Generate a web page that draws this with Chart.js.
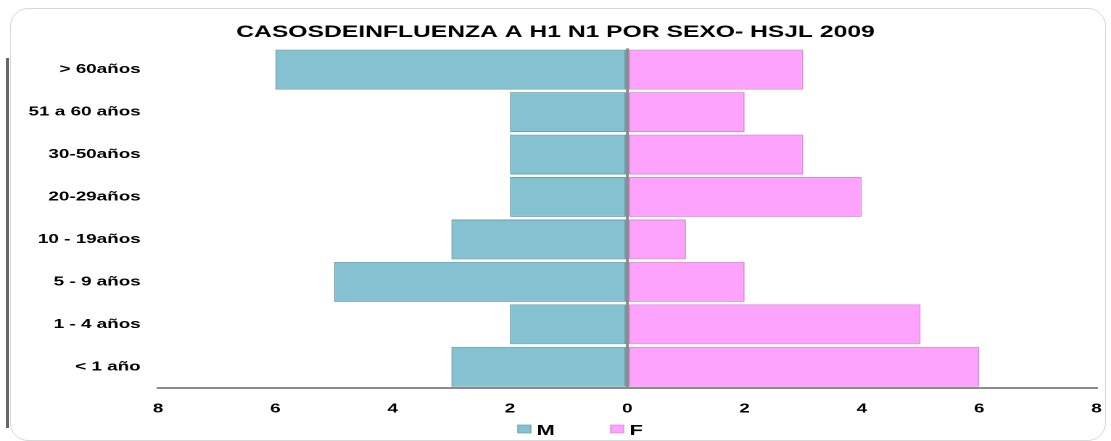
<!DOCTYPE html>
<html>
<head>
<meta charset="utf-8">
<script src="https://cdn.jsdelivr.net/npm/chart.js@4"></script>
<style>
  body { margin: 0; background: #fff; }
  #wrap { position: relative; width: 1111px; height: 441px; overflow: hidden; }
  #frame { position: absolute; left: 10px; top: 8px; width: 1094px; height: 431px;
           border: 1px solid #d8d8d8; border-radius: 18px; }
  #edge { position: absolute; left: 6px; top: 58px; width: 3px; height: 370px; background: #666; }
  /* the original picture is stretched sideways, so draw narrow and stretch */
  canvas { position: absolute; left: 0; top: 0; transform: scaleX(1.4504); transform-origin: 0 0; }
</style>
</head>
<body>
<div id="wrap">
  <div id="frame"></div>
  <div id="edge"></div>
  <canvas id="pyramid" width="766" height="441"></canvas>
</div>
<script>
const ageGroups = ['> 60años', '51 a 60 años', '30-50años', '20-29años', '10 - 19años', '5 - 9 años', '1 - 4 años', '< 1 año']
const maleCases = [6, 2, 2, 2, 3, 5, 2, 3]
const femaleCases = [3, 2, 3, 4, 1, 2, 5, 6]
const xTicks = [-8, -6, -4, -2, 0, 2, 4, 6, 8]

const boldFont = size => ({ family: 'Liberation Sans', weight: 'bold', size: size })

// small legend drawn by hand, the built-in one can't space items this far apart
const sexLegend = {
  id: 'sexLegend',
  afterDraw(chart) {
    const c = chart.ctx
    const spots = [357, 421]
    c.save()
    c.font = 'bold 15px "Liberation Sans"'
    c.textBaseline = 'alphabetic'
    chart.data.datasets.forEach((ds, i) => {
      const x = spots[i]
      c.fillStyle = ds.backgroundColor
      c.fillRect(x, 425, 9, 8)
      c.strokeStyle = ds.borderColor
      c.lineWidth = 0.7
      c.strokeRect(x, 425, 9, 8)
      c.fillStyle = '#000'
      c.fillText(ds.label, x + 13, 435)
    })
    c.restore()
  }
}

const ctx = document.getElementById('pyramid')

new Chart(ctx, {
  type: 'bar',
  data: {
    labels: ageGroups,
    datasets: [{
      label: 'M',
      data: maleCases.map(v => -v),
      backgroundColor: '#84c2d2',
      borderColor: '#6a9fae',
      borderWidth: 1,
      borderSkipped: false
    }, {
      label: 'F',
      data: femaleCases,
      backgroundColor: '#fda2fd',
      borderColor: '#d88ad8',
      borderWidth: 1,
      borderSkipped: false
    }]
  },
  options: {
    indexAxis: 'y',
    responsive: false,
    animation: false,
    devicePixelRatio: 2,
    categoryPercentage: 1,
    barPercentage: 0.94,
    layout: { padding: { left: 0, right: 0, bottom: 23 } },
    scales: {
      x: {
        stacked: true,
        min: -8,
        max: 8,
        z: 1,
        afterBuildTicks: scale => { scale.ticks = xTicks.map(v => ({ value: v })) },
        afterFit: scale => {
          scale.height = 30
          scale.paddingRight = 10
        },
        ticks: {
          callback: v => Math.abs(v),
          color: '#000',
          font: boldFont(13),
          padding: 13
        },
        grid: {
          drawTicks: false,
          color: c => c.tick && c.tick.value === 0 ? '#8c8c8c' : 'rgba(0,0,0,0)',
          lineWidth: 2
        },
        border: { display: true, color: '#8c8c8c', width: 2 }
      },
      y: {
        stacked: true,
        afterFit: scale => { scale.width = 109 },
        ticks: {
          color: '#000',
          font: boldFont(13),
          padding: 12
        },
        grid: { display: false, drawTicks: false },
        border: { display: false }
      }
    },
    plugins: {
      title: {
        display: true,
        text: 'CASOSDEINFLUENZA A H1 N1 POR SEXO- HSJL 2009',
        color: '#000',
        font: boldFont(17),
        padding: { top: 22, bottom: 6 }
      },
      legend: { display: false },
      tooltip: { enabled: false }
    }
  },
  plugins: [sexLegend]
})
</script>
</body>
</html>
